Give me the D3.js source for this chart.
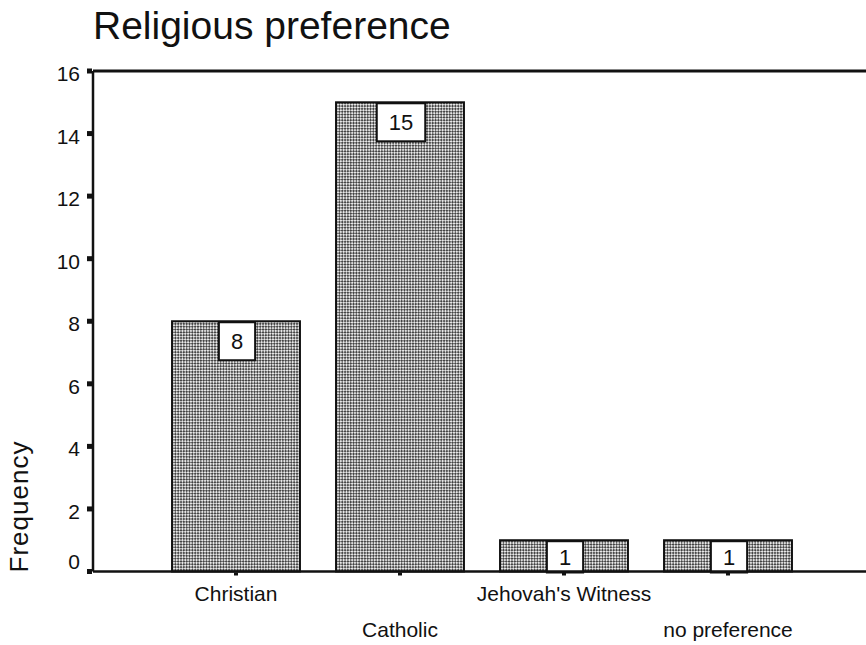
<!DOCTYPE html>
<html>
<head>
<meta charset="utf-8">
<script src="https://cdn.jsdelivr.net/npm/d3@7"></script>
<style>
  html, body { margin: 0; padding: 0; background: #fff; }
  svg { display: block; font-family: "Liberation Sans", Arial, sans-serif; }
</style>
</head>
<body>
<svg id="chart" width="866" height="645"></svg>
<script>
const categories = ["Christian", "Catholic", "Jehovah's Witness", "no preference"];
const frequencies = [8, 15, 1, 1];
const yTicks = [0, 2, 4, 6, 8, 10, 12, 14, 16];
const titleText = "Religious preference";
const yLabel = "Frequency";

(function () {
const svg = d3.select("#chart");
const pLeft = 93, pRight = 866, pTop = 71, pBottom = 571.5;

const x = d3.scaleBand().domain(categories).range([154, 810])
  .paddingInner(0.22).paddingOuter(0.11);
const y = d3.scaleLinear().domain([0, 16]).range([pBottom, pTop]);

// pattern for bars
const defs = svg.append("defs");
const pat = defs.append("pattern").attr("id", "hatch")
  .attr("patternUnits", "userSpaceOnUse").attr("width", 4).attr("height", 4)
  .attr("patternTransform", "rotate(45)");
pat.append("rect").attr("width", 4).attr("height", 4).attr("fill", "#e8e8e8");
pat.append("rect").attr("width", 2).attr("height", 2).attr("fill", "#444");
pat.append("rect").attr("x", 2).attr("y", 2).attr("width", 2).attr("height", 2).attr("fill", "#444");

// title
svg.append("text").attr("x", 93).attr("y", 39)
  .attr("font-size", 39).attr("fill", "#111").text(titleText);

// y label
svg.append("text")
  .attr("transform", `translate(28, 507) rotate(-90)`)
  .attr("text-anchor", "middle").attr("font-size", 26)
  .attr("textLength", 131).attr("lengthAdjust", "spacing")
  .attr("fill", "#111").text(yLabel);

// bars
svg.append("g").selectAll("rect").data(categories).join("rect")
  .attr("x", d => x(d))
  .attr("y", (d, i) => y(frequencies[i]))
  .attr("width", x.bandwidth())
  .attr("height", (d, i) => y(0) - y(frequencies[i]))
  .attr("fill", "url(#hatch)")
  .attr("stroke", "#111").attr("stroke-width", 2);

// value boxes
const boxes = svg.append("g").selectAll("g").data(categories).join("g");
boxes.each(function(d, i) {
  const g = d3.select(this);
  const cx = x(d) + x.bandwidth() / 2 + 1;
  const t = g.append("text").attr("x", cx).attr("font-size", 22)
    .attr("text-anchor", "middle").attr("fill", "#111").text(frequencies[i]);
  const w = t.node().getComputedTextLength() + 24;
  const top0 = y(frequencies[i]) + 1;
  const h = Math.min(38, y(0) - top0 + 1);
  g.insert("rect", "text").attr("x", cx - w / 2).attr("y", top0)
    .attr("width", w).attr("height", h)
    .attr("fill", "#fff").attr("stroke", "#111").attr("stroke-width", 2);
  t.attr("y", top0 + h / 2 + 8);
});

// axes lines
svg.append("line").attr("x1", pLeft).attr("x2", pRight).attr("y1", pTop).attr("y2", pTop)
  .attr("stroke", "#111").attr("stroke-width", 3);
svg.append("line").attr("x1", pLeft).attr("x2", pRight).attr("y1", pBottom).attr("y2", pBottom)
  .attr("stroke", "#111").attr("stroke-width", 2.5);
svg.append("line").attr("x1", pLeft).attr("x2", pLeft).attr("y1", pTop).attr("y2", pBottom)
  .attr("stroke", "#111").attr("stroke-width", 2.5);

// y ticks
const yg = svg.append("g");
yg.selectAll("rect").data(yTicks).join("rect")
  .attr("x", 87).attr("y", d => y(d) - 2.5).attr("width", 5).attr("height", 5).attr("fill", "#111");
yg.selectAll("text").data(yTicks).join("text")
  .attr("x", 80).attr("y", d => y(d) + (d === 0 ? -3 : 10))
  .attr("text-anchor", "end").attr("font-size", 21).attr("fill", "#111")
  .text(d => d);

// x ticks
const xg = svg.append("g");
xg.selectAll("rect").data(categories).join("rect")
  .attr("x", d => x(d) + x.bandwidth() / 2 - 2).attr("y", pBottom + 1)
  .attr("width", 4).attr("height", 3).attr("fill", "#111");
xg.selectAll("text").data(categories).join("text")
  .attr("x", d => x(d) + x.bandwidth() / 2)
  .attr("y", (d, i) => i % 2 === 0 ? 601 : 637)
  .attr("text-anchor", "middle").attr("font-size", 21).attr("fill", "#111")
  .text(d => d);
})();
</script>
</body>
</html>
